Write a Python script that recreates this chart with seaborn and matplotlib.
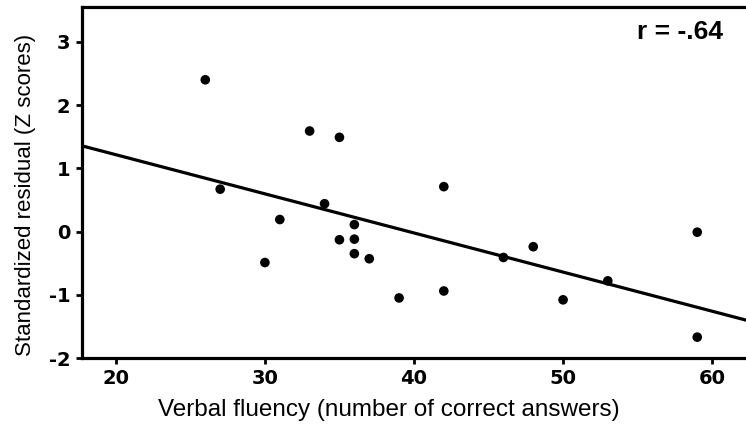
import matplotlib
matplotlib.use("Agg")
import matplotlib.pyplot as plt
import seaborn as sns
import pandas as pd

# Values
fluency = [26, 27, 33, 35, 34, 31, 30, 36, 35, 36, 36, 37, 39, 42, 42, 46, 48, 50, 53, 59, 59]
residual = [2.40, 0.67, 1.59, 1.49, 0.44, 0.19, -0.49, 0.11, -0.13, -0.12, -0.35, -0.43,
            -1.05, 0.71, -0.94, -0.41, -0.24, -1.08, -0.78, -0.01, -1.67]
x_ticks = [20, 30, 40, 50, 60]
y_ticks = [-2, -1, 0, 1, 2, 3]
r_label = "r = -.64"

df = pd.DataFrame({"fluency": fluency, "residual": residual})

sns.set_style("ticks")
plt.rcParams["font.family"] = ["Liberation Sans Narrow", "Liberation Sans", "DejaVu Sans"]
plt.rcParams["axes.unicode_minus"] = False
plt.rcParams["text.color"] = "black"
plt.rcParams["axes.labelcolor"] = "black"

fig = plt.figure(figsize=(7.46, 4.29), dpi=100)
ax = fig.add_axes([0.1093, 0.1655, 0.8907, 0.818])
ax.set_xlim(17.7, 62.27)
ax.set_ylim(-2.0, 3.55)

sns.regplot(
    data=df, x="fluency", y="residual", ax=ax, ci=None, truncate=False,
    scatter_kws={"s": 48, "color": "black", "edgecolor": "none", "alpha": 1},
    line_kws={"color": "black", "linewidth": 2.3},
)

ax.set_xlim(17.7, 62.27)
ax.set_ylim(-2.0, 3.55)
ax.set_xticks(x_ticks)
ax.set_yticks(y_ticks)
ax.tick_params(axis="both", direction="out", length=4.5, width=2, colors="black", pad=3.5)
for lbl in ax.get_xticklabels() + ax.get_yticklabels():
    lbl.set_fontweight("bold")
    lbl.set_fontsize(14)
    lbl.set_family("DejaVu Sans")

ax.set_xlabel("Verbal fluency (number of correct answers)", fontsize=17.5, color="black")
ax.xaxis.set_label_coords(0.463, -0.118)
ax.set_ylabel("Standardized residual (Z scores)", fontsize=16, color="black",
              family=["Liberation Sans", "DejaVu Sans"])
ax.yaxis.set_label_coords(-0.069, 0.465)

for side in ["left", "bottom", "top"]:
    ax.spines[side].set_linewidth(2.3)
    ax.spines[side].set_color("black")
ax.spines["right"].set_visible(False)

ax.text(0.965, 0.93, r_label, transform=ax.transAxes, ha="right", va="center",
        fontsize=19, fontweight="bold", color="black")

fig.savefig("out.png", dpi=100)
